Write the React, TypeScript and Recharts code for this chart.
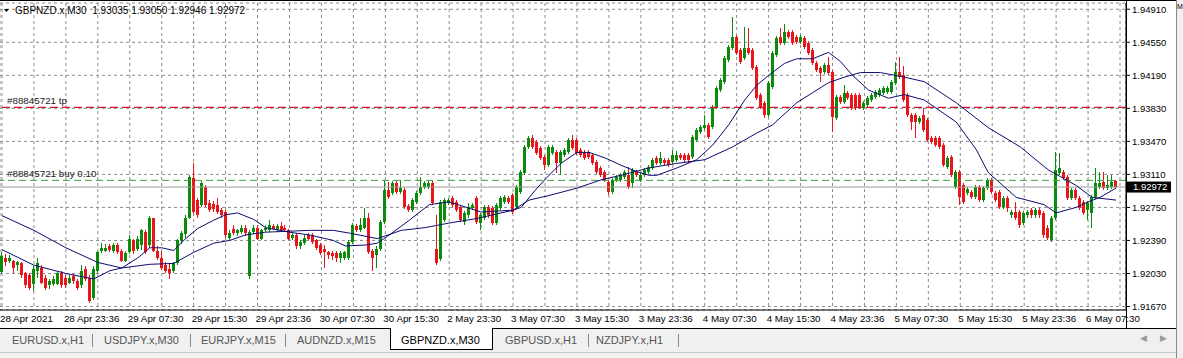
import React from 'react';
import { ComposedChart, Bar, Line, XAxis, YAxis, CartesianGrid, ReferenceLine } from 'recharts';

const FONT = '"Liberation Sans", Arial, sans-serif';
const GREEN = '#0b8b0b';
const RED = '#e8161b';
const MA_COLOR = '#0b0b70';

// price scale labels on the right
const priceTicks = [1.9491, 1.9455, 1.9419, 1.9383, 1.9347, 1.9311, 1.9275, 1.9239, 1.9203, 1.9167];

// time labels, one every 16 bars (8 hours of M30)
const timeLabels = [
  '28 Apr 2021', '28 Apr 23:36', '29 Apr 07:30', '29 Apr 15:30', '29 Apr 23:36', '30 Apr 07:30',
  '30 Apr 15:30', '2 May 23:30', '3 May 07:30', '3 May 15:30', '3 May 23:36', '4 May 07:30',
  '4 May 15:30', '4 May 23:36', '5 May 07:30', '5 May 15:30', '5 May 23:36', '6 May 07:30',
];

const tabs = ['EURUSD.x,H1', 'USDJPY.x,M30', 'EURJPY.x,M15', 'AUDNZD.x,M15', 'GBPNZD.x,M30', 'GBPUSD.x,H1', 'NZDJPY.x,H1'];
const tabLeft = [12, 104, 201, 297, 401, 505, 596];
const tabSeps = [92, 190, 285, 588, 678];

const tpPrice = 1.9384;
const buyPrice = 1.93045;
const bidPrice = 1.92972;

const opens = [
  1.9205, 1.9220, 1.9217, 1.9217, 1.9212, 1.9214, 1.9203, 1.9201, 1.9192, 1.9206,
  1.9209, 1.9198, 1.9190, 1.9192, 1.9192, 1.9204, 1.9198, 1.9193, 1.9200, 1.9195,
  1.9190, 1.9208, 1.9198, 1.9176, 1.9206, 1.9228, 1.9228, 1.9233, 1.9228, 1.9234,
  1.9228, 1.9217, 1.9226, 1.9239, 1.9230, 1.9234, 1.9248, 1.9234, 1.9263, 1.9228,
  1.9220, 1.9212, 1.9208, 1.9206, 1.9214, 1.9238, 1.9246, 1.9264, 1.9307, 1.9283,
  1.9278, 1.9297, 1.9280, 1.9279, 1.9278, 1.9272, 1.9270, 1.9242, 1.9252, 1.9247,
  1.9248, 1.9253, 1.9200, 1.9248, 1.9253, 1.9241, 1.9250, 1.9250, 1.9255, 1.9250,
  1.9255, 1.9253, 1.9250, 1.9242, 1.9245, 1.9233, 1.9236, 1.9245, 1.9245, 1.9239,
  1.9234, 1.9230, 1.9226, 1.9225, 1.9225, 1.9220, 1.9220, 1.9220, 1.9237, 1.9255,
  1.9250, 1.9253, 1.9263, 1.9228, 1.9223, 1.9230, 1.9259, 1.9294, 1.9291, 1.9302,
  1.9292, 1.9294, 1.9277, 1.9272, 1.9281, 1.9291, 1.9297, 1.9297, 1.9302, 1.9230,
  1.9219, 1.9261, 1.9280, 1.9285, 1.9281, 1.9275, 1.9259, 1.9267, 1.9274, 1.9285,
  1.9258, 1.9263, 1.9275, 1.9274, 1.9258, 1.9274, 1.9281, 1.9285, 1.9288, 1.9275,
  1.9292, 1.9313, 1.9341, 1.9351, 1.9346, 1.9340, 1.9330, 1.9321, 1.9334, 1.9335,
  1.9323, 1.9332, 1.9335, 1.9349, 1.9349, 1.9338, 1.9335, 1.9335, 1.9332, 1.9325,
  1.9318, 1.9314, 1.9303, 1.9292, 1.9305, 1.9305, 1.9308, 1.9310, 1.9302, 1.9314,
  1.9305, 1.9310, 1.9314, 1.9318, 1.9329, 1.9323, 1.9327, 1.9327, 1.9325, 1.9327,
  1.9332, 1.9332, 1.9332, 1.9330, 1.9349, 1.9357, 1.9362, 1.9365, 1.9363, 1.9384,
  1.9403, 1.9412, 1.9436, 1.9449, 1.9461, 1.9447, 1.9438, 1.9449, 1.9447, 1.9428,
  1.9398, 1.9389, 1.9376, 1.9406, 1.9441, 1.9461, 1.9454, 1.9466, 1.9466, 1.9461,
  1.9455, 1.9460, 1.9454, 1.9447, 1.9432, 1.9427, 1.9423, 1.9430, 1.9423, 1.9372,
  1.9395, 1.9390, 1.9400, 1.9398, 1.9398, 1.9398, 1.9383, 1.9387, 1.9392, 1.9395,
  1.9398, 1.9400, 1.9401, 1.9401, 1.9411, 1.9423, 1.9419, 1.9398, 1.9376, 1.9376,
  1.9368, 1.9376, 1.9370, 1.9351, 1.9351, 1.9351, 1.9343, 1.9319, 1.9330, 1.9297,
  1.9314, 1.9299, 1.9291, 1.9292, 1.9286, 1.9297, 1.9283, 1.9296, 1.9305, 1.9291,
  1.9292, 1.9275, 1.9285, 1.9267, 1.9270, 1.9270, 1.9258, 1.9267, 1.9272, 1.9267,
  1.9272, 1.9269, 1.9253, 1.9239, 1.9263, 1.9313, 1.9314, 1.9308, 1.9285, 1.9294,
  1.9285, 1.9281, 1.9272, 1.9269, 1.9286, 1.9297, 1.9303, 1.9296, 1.9297, 1.93035,
];

const highs = [
  1.9226, 1.9224, 1.9223, 1.9218, 1.9217, 1.9216, 1.9205, 1.9203, 1.9211, 1.9220,
  1.9212, 1.9201, 1.9197, 1.9200, 1.9205, 1.9206, 1.9201, 1.9201, 1.9202, 1.9197,
  1.9212, 1.9211, 1.9201, 1.9211, 1.9228, 1.9236, 1.9235, 1.9235, 1.9236, 1.9236,
  1.9230, 1.9227, 1.9245, 1.9241, 1.9244, 1.9252, 1.9250, 1.9266, 1.9264, 1.9233,
  1.9228, 1.9216, 1.9214, 1.9216, 1.9241, 1.9249, 1.9267, 1.9310, 1.9323, 1.9285,
  1.9304, 1.9299, 1.9283, 1.9282, 1.9285, 1.9274, 1.9272, 1.9250, 1.9256, 1.9252,
  1.9256, 1.9256, 1.9250, 1.9256, 1.9256, 1.9252, 1.9256, 1.9261, 1.9257, 1.9257,
  1.9259, 1.9256, 1.9252, 1.9247, 1.9247, 1.9239, 1.9245, 1.9247, 1.9247, 1.9241,
  1.9236, 1.9234, 1.9228, 1.9227, 1.9227, 1.9227, 1.9228, 1.9239, 1.9258, 1.9257,
  1.9264, 1.9274, 1.9269, 1.9230, 1.9233, 1.9261, 1.9305, 1.9303, 1.9304, 1.9304,
  1.9305, 1.9296, 1.9279, 1.9285, 1.9293, 1.9308, 1.9304, 1.9304, 1.9304, 1.9267,
  1.9283, 1.9285, 1.9285, 1.9287, 1.9283, 1.9278, 1.9271, 1.9280, 1.9280, 1.9287,
  1.9269, 1.9278, 1.9278, 1.9277, 1.9280, 1.9287, 1.9288, 1.9287, 1.9291, 1.9299,
  1.9316, 1.9343, 1.9353, 1.9354, 1.9349, 1.9342, 1.9332, 1.9343, 1.9343, 1.9338,
  1.9338, 1.9340, 1.9351, 1.9354, 1.9351, 1.9340, 1.9338, 1.9338, 1.9334, 1.9327,
  1.9320, 1.9316, 1.9305, 1.9307, 1.9310, 1.9313, 1.9316, 1.9319, 1.9318, 1.9316,
  1.9313, 1.9318, 1.9321, 1.9329, 1.9331, 1.9335, 1.9329, 1.9329, 1.9338, 1.9336,
  1.9334, 1.9334, 1.9334, 1.9354, 1.9362, 1.9365, 1.9376, 1.9367, 1.9387, 1.9407,
  1.9416, 1.9440, 1.9452, 1.9483, 1.9463, 1.9449, 1.9472, 1.9471, 1.9449, 1.9430,
  1.9400, 1.9391, 1.9413, 1.9446, 1.9462, 1.9471, 1.9475, 1.9468, 1.9468, 1.9463,
  1.9463, 1.9462, 1.9456, 1.9449, 1.9435, 1.9429, 1.9432, 1.9439, 1.9425, 1.9398,
  1.9398, 1.9408, 1.9402, 1.9400, 1.9400, 1.9400, 1.9391, 1.9396, 1.9400, 1.9403,
  1.9405, 1.9407, 1.9407, 1.9414, 1.9434, 1.9439, 1.9429, 1.9400, 1.9378, 1.9378,
  1.9375, 1.9383, 1.9372, 1.9353, 1.9353, 1.9353, 1.9345, 1.9331, 1.9332, 1.9316,
  1.9316, 1.9302, 1.9297, 1.9294, 1.9299, 1.9299, 1.9298, 1.9307, 1.9307, 1.9293,
  1.9294, 1.9287, 1.9287, 1.9272, 1.9281, 1.9272, 1.9271, 1.9272, 1.9274, 1.9274,
  1.9274, 1.9271, 1.9256, 1.9266, 1.9335, 1.9334, 1.9316, 1.9310, 1.9296, 1.9296,
  1.9287, 1.9283, 1.9282, 1.9288, 1.9318, 1.9314, 1.9314, 1.9310, 1.9310, 1.93050,
];

const lows = [
  1.9203, 1.9211, 1.9214, 1.9204, 1.9206, 1.9198, 1.9187, 1.9185, 1.9184, 1.9198,
  1.9191, 1.9185, 1.9186, 1.9189, 1.9190, 1.9187, 1.9187, 1.9191, 1.9192, 1.9185,
  1.9187, 1.9195, 1.9171, 1.9174, 1.9204, 1.9225, 1.9226, 1.9226, 1.9225, 1.9224,
  1.9215, 1.9215, 1.9224, 1.9224, 1.9228, 1.9229, 1.9224, 1.9231, 1.9226, 1.9218,
  1.9207, 1.9204, 1.9197, 1.9204, 1.9212, 1.9235, 1.9242, 1.9262, 1.9268, 1.9264,
  1.9275, 1.9275, 1.9270, 1.9270, 1.9268, 1.9264, 1.9242, 1.9239, 1.9245, 1.9244,
  1.9246, 1.9244, 1.9197, 1.9246, 1.9239, 1.9239, 1.9248, 1.9248, 1.9250, 1.9248,
  1.9248, 1.9248, 1.9239, 1.9240, 1.9230, 1.9230, 1.9234, 1.9239, 1.9235, 1.9229,
  1.9223, 1.9209, 1.9219, 1.9218, 1.9215, 1.9214, 1.9218, 1.9218, 1.9235, 1.9248,
  1.9248, 1.9251, 1.9224, 1.9206, 1.9209, 1.9228, 1.9257, 1.9284, 1.9288, 1.9290,
  1.9290, 1.9273, 1.9270, 1.9270, 1.9279, 1.9288, 1.9295, 1.9295, 1.9278, 1.9212,
  1.9217, 1.9259, 1.9278, 1.9275, 1.9270, 1.9259, 1.9256, 1.9264, 1.9272, 1.9257,
  1.9250, 1.9261, 1.9264, 1.9256, 1.9256, 1.9272, 1.9279, 1.9279, 1.9268, 1.9273,
  1.9290, 1.9310, 1.9339, 1.9339, 1.9332, 1.9327, 1.9316, 1.9319, 1.9332, 1.9313,
  1.9310, 1.9330, 1.9333, 1.9338, 1.9332, 1.9330, 1.9327, 1.9328, 1.9321, 1.9311,
  1.9308, 1.9303, 1.9288, 1.9290, 1.9303, 1.9303, 1.9306, 1.9295, 1.9296, 1.9308,
  1.9303, 1.9308, 1.9311, 1.9316, 1.9321, 1.9321, 1.9321, 1.9319, 1.9322, 1.9325,
  1.9327, 1.9325, 1.9323, 1.9328, 1.9346, 1.9355, 1.9359, 1.9350, 1.9360, 1.9382,
  1.9401, 1.9410, 1.9434, 1.9447, 1.9441, 1.9431, 1.9436, 1.9441, 1.9425, 1.9392,
  1.9382, 1.9372, 1.9374, 1.9404, 1.9439, 1.9452, 1.9452, 1.9459, 1.9452, 1.9453,
  1.9453, 1.9448, 1.9441, 1.9430, 1.9423, 1.9412, 1.9420, 1.9419, 1.9357, 1.9370,
  1.9388, 1.9388, 1.9392, 1.9381, 1.9381, 1.9382, 1.9381, 1.9384, 1.9390, 1.9393,
  1.9395, 1.9398, 1.9399, 1.9399, 1.9408, 1.9415, 1.9390, 1.9374, 1.9359, 1.9351,
  1.9366, 1.9357, 1.9346, 1.9344, 1.9341, 1.9339, 1.9319, 1.9317, 1.9308, 1.9295,
  1.9278, 1.9279, 1.9288, 1.9284, 1.9284, 1.9281, 1.9281, 1.9294, 1.9290, 1.9281,
  1.9273, 1.9273, 1.9270, 1.9264, 1.9261, 1.9253, 1.9256, 1.9264, 1.9264, 1.9264,
  1.9264, 1.9242, 1.9239, 1.9237, 1.9261, 1.9310, 1.9305, 1.9283, 1.9283, 1.9283,
  1.9272, 1.9267, 1.9261, 1.9253, 1.9284, 1.9295, 1.9294, 1.9294, 1.9295, 1.92946,
];

const closes = [
  1.9222, 1.9215, 1.9220, 1.9209, 1.9215, 1.9201, 1.9190, 1.9187, 1.9208, 1.9214,
  1.9193, 1.9187, 1.9195, 1.9197, 1.9203, 1.9190, 1.9190, 1.9198, 1.9195, 1.9187,
  1.9206, 1.9197, 1.9173, 1.9208, 1.9226, 1.9231, 1.9231, 1.9229, 1.9234, 1.9226,
  1.9217, 1.9225, 1.9241, 1.9228, 1.9241, 1.9250, 1.9226, 1.9263, 1.9228, 1.9220,
  1.9209, 1.9206, 1.9204, 1.9214, 1.9239, 1.9247, 1.9264, 1.9308, 1.9270, 1.9267,
  1.9302, 1.9278, 1.9272, 1.9273, 1.9270, 1.9267, 1.9245, 1.9247, 1.9247, 1.9250,
  1.9253, 1.9247, 1.9248, 1.9253, 1.9241, 1.9250, 1.9253, 1.9256, 1.9252, 1.9255,
  1.9250, 1.9250, 1.9241, 1.9245, 1.9233, 1.9237, 1.9242, 1.9241, 1.9237, 1.9231,
  1.9225, 1.9226, 1.9223, 1.9222, 1.9220, 1.9225, 1.9226, 1.9237, 1.9256, 1.9250,
  1.9256, 1.9263, 1.9226, 1.9220, 1.9230, 1.9259, 1.9294, 1.9286, 1.9302, 1.9292,
  1.9296, 1.9275, 1.9272, 1.9283, 1.9291, 1.9297, 1.9302, 1.9302, 1.9280, 1.9214,
  1.9281, 1.9283, 1.9283, 1.9278, 1.9272, 1.9261, 1.9269, 1.9275, 1.9278, 1.9259,
  1.9267, 1.9275, 1.9267, 1.9258, 1.9278, 1.9285, 1.9286, 1.9281, 1.9270, 1.9297,
  1.9314, 1.9341, 1.9351, 1.9341, 1.9334, 1.9329, 1.9321, 1.9341, 1.9341, 1.9323,
  1.9335, 1.9338, 1.9349, 1.9340, 1.9334, 1.9332, 1.9329, 1.9330, 1.9323, 1.9314,
  1.9310, 1.9305, 1.9292, 1.9305, 1.9308, 1.9310, 1.9314, 1.9297, 1.9316, 1.9310,
  1.9310, 1.9316, 1.9319, 1.9327, 1.9323, 1.9329, 1.9323, 1.9321, 1.9332, 1.9332,
  1.9329, 1.9327, 1.9327, 1.9352, 1.9359, 1.9363, 1.9365, 1.9352, 1.9384, 1.9405,
  1.9414, 1.9438, 1.9450, 1.9461, 1.9443, 1.9434, 1.9449, 1.9443, 1.9427, 1.9394,
  1.9384, 1.9376, 1.9411, 1.9443, 1.9460, 1.9454, 1.9466, 1.9461, 1.9454, 1.9455,
  1.9461, 1.9450, 1.9443, 1.9432, 1.9425, 1.9422, 1.9430, 1.9422, 1.9374, 1.9395,
  1.9390, 1.9400, 1.9394, 1.9383, 1.9383, 1.9384, 1.9389, 1.9394, 1.9398, 1.9401,
  1.9403, 1.9405, 1.9405, 1.9412, 1.9423, 1.9417, 1.9392, 1.9376, 1.9368, 1.9368,
  1.9372, 1.9359, 1.9349, 1.9346, 1.9343, 1.9341, 1.9321, 1.9329, 1.9310, 1.9314,
  1.9286, 1.9281, 1.9295, 1.9286, 1.9297, 1.9283, 1.9296, 1.9305, 1.9292, 1.9283,
  1.9275, 1.9285, 1.9274, 1.9270, 1.9263, 1.9256, 1.9269, 1.9270, 1.9267, 1.9272,
  1.9267, 1.9245, 1.9242, 1.9263, 1.9316, 1.9318, 1.9307, 1.9285, 1.9294, 1.9285,
  1.9274, 1.9269, 1.9280, 1.9286, 1.9302, 1.9302, 1.9296, 1.9299, 1.9303, 1.92972,
];

// moving averages, read at selected bars (joined by straight segments)
const maFastAt = [0, 8, 16, 23, 27, 30, 34, 37, 40, 43, 46, 49, 53, 56, 59, 63, 66, 72, 77, 83, 86, 91, 94, 97, 102, 107, 112, 120, 128, 130, 134, 137, 140, 144, 147, 151, 155, 159, 162, 164, 169, 174, 178, 182, 186, 189, 192, 196, 199, 203, 207, 210, 213, 217, 222, 226, 231, 239, 244, 247, 254, 261, 264, 269, 272, 275, 279];
const maFastVal = [1.9229, 1.9212, 1.9203, 1.9197, 1.9206, 1.9209, 1.9220, 1.9231, 1.9231, 1.9228, 1.9241, 1.9252, 1.9261, 1.9267, 1.9269, 1.9262, 1.9253, 1.9248, 1.9245, 1.9239, 1.9233, 1.9234, 1.9236, 1.9245, 1.9261, 1.9278, 1.9281, 1.9270, 1.9272, 1.9275, 1.9296, 1.9310, 1.9323, 1.9335, 1.9335, 1.9329, 1.9321, 1.9314, 1.9310, 1.9310, 1.9318, 1.9327, 1.9343, 1.9365, 1.9392, 1.9408, 1.9419, 1.9432, 1.9437, 1.9437, 1.9444, 1.9434, 1.9419, 1.9403, 1.9394, 1.9398, 1.9392, 1.9368, 1.9338, 1.9313, 1.9286, 1.9278, 1.9269, 1.9275, 1.9281, 1.9286, 1.9296];
const maSlowAt = [0, 8, 16, 24, 30, 37, 43, 48, 53, 57, 61, 66, 77, 83, 87, 94, 100, 106, 112, 119, 128, 132, 137, 144, 150, 155, 162, 169, 176, 183, 189, 193, 199, 203, 207, 211, 215, 220, 226, 231, 239, 247, 255, 262, 269, 273, 279];
const maSlowVal = [1.9266, 1.9250, 1.9231, 1.9215, 1.9209, 1.9213, 1.9214, 1.9226, 1.9236, 1.9239, 1.9245, 1.9248, 1.9250, 1.9250, 1.9247, 1.9241, 1.9250, 1.9253, 1.9258, 1.9263, 1.9272, 1.9283, 1.9288, 1.9296, 1.9305, 1.9310, 1.9318, 1.9323, 1.9327, 1.9341, 1.9356, 1.9365, 1.9389, 1.9400, 1.9411, 1.9417, 1.9422, 1.9422, 1.9417, 1.9412, 1.9389, 1.9362, 1.9341, 1.9316, 1.9299, 1.9286, 1.9283];

const SLOTS = 282;

const data: any[] = Array.from({ length: SLOTS }, (_, i) => {
  if (i >= opens.length) return { i };
  return {
    i,
    open: opens[i],
    high: highs[i],
    low: lows[i],
    close: closes[i],
    range: [lows[i], highs[i]],
  };
});
maFastAt.forEach((idx, k) => { data[idx].maF = maFastVal[k]; });
maSlowAt.forEach((idx, k) => { data[idx].maS = maSlowVal[k]; });

const xTicks = Array.from({ length: 36 }, (_, k) => k * 8);

function Candle(props: any) {
  const { x, y, width, height, payload } = props;
  if (!payload || payload.open == null) return null;
  const { open, close, high, low } = payload;
  const top = Math.min(y, y + height);
  const h = Math.abs(height);
  const k = high > low ? h / (high - low) : 0;
  const py = (p: number) => top + (high - p) * k;
  const cx = Math.floor(x + width / 2);
  const color = close >= open ? GREEN : RED;
  const y1 = Math.round(py(Math.max(open, close)));
  const y2 = Math.round(py(Math.min(open, close)));
  return (
    <g shapeRendering="crispEdges">
      <rect x={cx} y={Math.round(top)} width={1} height={Math.max(1, Math.round(top + h) - Math.round(top))} fill={color} />
      <rect x={cx - 1} y={y1} width={3} height={Math.max(1, y2 - y1)} fill={color} />
    </g>
  );
}

function TimeTick(props: any) {
  const { x, y, payload } = props;
  const i = payload.value;
  if (i % 16 !== 0) return <g />;
  return (
    <g>
      <text x={x - 2} y={y - 1} dy="0.71em" fontSize={9.8} fontFamily={FONT} fill="#000" textAnchor="start">
        {timeLabels[i / 16]}
      </text>
    </g>
  );
}

function TradeLabel(props: any) {
  const { viewBox, text } = props;
  return (
    <text x={viewBox.x + 7} y={viewBox.y - 3} fontSize={9.8} fontFamily={FONT} fill="#222">
      {text}
    </text>
  );
}

function BidTag(props: any) {
  const { viewBox } = props;
  const xx = viewBox.x + viewBox.width;
  return (
    <g>
      <rect x={xx + 1} y={viewBox.y - 5.5} width={44} height={11} fill="#000" />
      <text x={xx + 7} y={viewBox.y} dy="0.355em" fontSize={9.5} fontFamily={FONT} fill="#fff">
        {bidPrice.toFixed(5)}
      </text>
    </g>
  );
}

export default function App() {
  return (
    <div style={{ position: 'absolute', left: 0, top: 0, width: 1183, height: 358, background: '#fff', overflow: 'hidden', fontFamily: FONT }}>
      <div style={{ position: 'absolute', left: 0, top: 0 }}>
        <ComposedChart width={1176} height={328} data={data} margin={{ top: 3, right: 0, bottom: 0, left: 0 }}>
          <CartesianGrid stroke="#8c8c8c" strokeDasharray="3 3" />
          <XAxis
            dataKey="i"
            type="category"
            ticks={xTicks}
            interval={0}
            height={18}
            tickSize={4}
            tickMargin={2}
            tickLine={false}
            axisLine={{ stroke: '#000' }}
            tick={<TimeTick />}
          />
          <YAxis
            orientation="right"
            width={50}
            domain={[1.91632, 1.94978]}
            allowDataOverflow
            ticks={priceTicks}
            interval={0}
            tickFormatter={(v: number) => v.toFixed(5)}
            tick={{ fill: '#000', fontSize: 9.5, fontFamily: FONT }}
            tickSize={4}
            tickMargin={2}
            tickLine={{ stroke: '#000' }}
            axisLine={{ stroke: '#000' }}
          />
          <ReferenceLine y={tpPrice} stroke="#e0102a" strokeWidth={1.3} strokeDasharray="8 4" label={<TradeLabel text="#88845721 tp" />} />
          <ReferenceLine y={buyPrice} stroke="#3aa03a" strokeDasharray="7 4" label={<TradeLabel text="#88845721 buy 0.10" />} />
          <ReferenceLine y={bidPrice} stroke="#9a9a9a" label={<BidTag />} />
          <Bar dataKey="range" barSize={3} shape={(p: any) => <Candle {...p} />} isAnimationActive={false} />
          <Line dataKey="maS" stroke={MA_COLOR} strokeWidth={1} dot={false} connectNulls type="linear" isAnimationActive={false} />
          <Line dataKey="maF" stroke={MA_COLOR} strokeWidth={1} dot={false} connectNulls type="linear" isAnimationActive={false} />
        </ComposedChart>
      </div>

      {/* frame lines */}
      <div style={{ position: 'absolute', left: 0, top: 0, width: 1177, height: 1, background: '#000' }} />
      <div style={{ position: 'absolute', left: 1126, top: 0, width: 1, height: 328, background: '#000' }} />
      <div style={{ position: 'absolute', left: 0, top: 328, width: 1177, height: 1, background: '#000' }} />

      {/* title */}
      <svg style={{ position: 'absolute', left: 0, top: 0 }} width={300} height={20}>
        <polygon points="4,9 9,9 6.5,12" fill="#000" />
        <text x={15} y={14} fontSize={10} fontFamily={FONT} fill="#000" style={{ whiteSpace: 'pre' }}>GBPNZD.x,M30  1.93035 1.93050 1.92946 1.92972</text>
      </svg>

      {/* right side panel edge */}
      <div style={{ position: 'absolute', left: 1176, top: 0, width: 7, height: 358, background: '#f0f0f0', borderLeft: '1px solid #8a8a8a' }} />
      <div style={{ position: 'absolute', left: 1177, top: 3, fontSize: 7, lineHeight: '8px', color: '#000' }}>M</div>

      {/* tab bar */}
      <div style={{ position: 'absolute', left: 0, top: 329, width: 1176, height: 29, background: '#f0f0f0' }} />
      <div style={{ position: 'absolute', left: 0, top: 352, width: 1176, height: 1, background: '#c8c8c8' }} />
      <div style={{ position: 'absolute', left: 390, top: 328, width: 101, height: 21, background: '#fff', borderLeft: '1px solid #000', borderRight: '1px solid #000', borderBottom: '1px solid #000' }} />
      {tabs.map((t, k) => (
        <div key={t} style={{ position: 'absolute', left: tabLeft[k], top: 333, fontSize: 11, lineHeight: '14px', color: k === 4 ? '#000' : '#555', whiteSpace: 'nowrap' }}>
          {t}
        </div>
      ))}
      {tabSeps.map((sx) => (
        <div key={sx} style={{ position: 'absolute', left: sx, top: 334, width: 1, height: 13, background: '#8a8a8a' }} />
      ))}
      <div style={{ position: 'absolute', left: 1140, top: 333, fontSize: 9, color: '#9a9a9a' }}>◀</div>
      <div style={{ position: 'absolute', left: 1160, top: 333, fontSize: 9, color: '#9a9a9a' }}>▶</div>
    </div>
  );
}
